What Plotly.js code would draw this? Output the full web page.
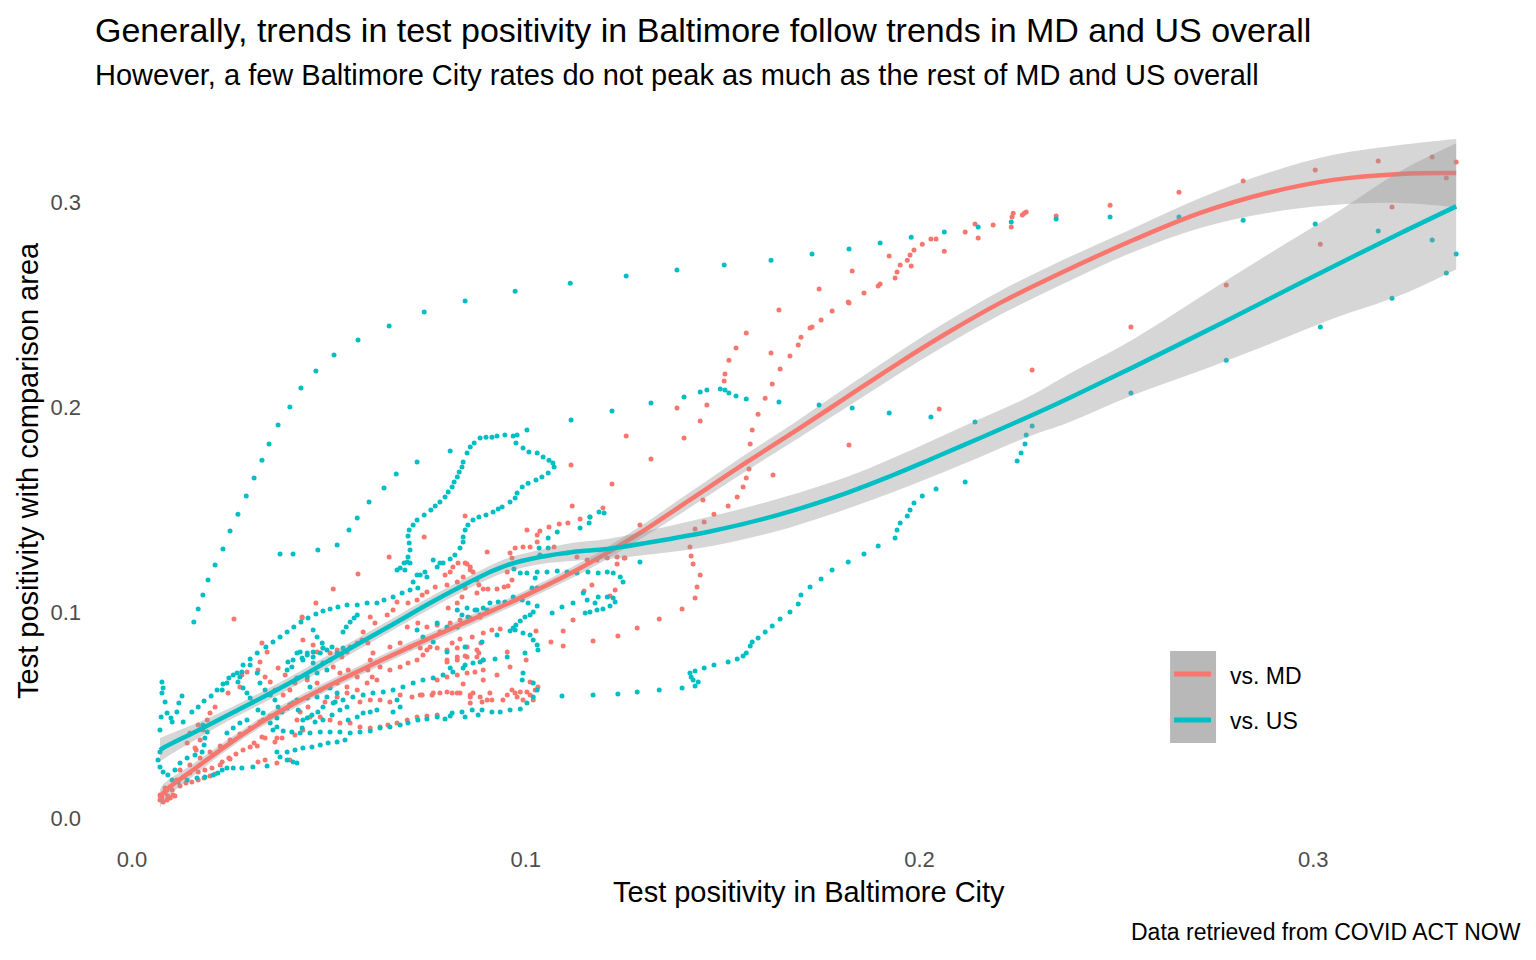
<!DOCTYPE html>
<html>
<head>
<meta charset="utf-8">
<script src="https://cdn.plot.ly/plotly-3.0.1.min.js"></script>
<style>html,body{margin:0;padding:0;background:#fff;}#chart{width:1536px;height:960px;}</style>
</head>
<body>
<div id="chart"></div>
<script>
// ---------- tick values ----------
const xTickVals = [0, 0.1, 0.2, 0.3];
const yTickVals = [0, 0.1, 0.2, 0.3];
const tickLabels = ["0.0", "0.1", "0.2", "0.3"];

// ---------- vs. US (teal) points [x, y] ----------
const usUpperArc = [[0.0157,0.0955],[0.0168,0.1018],[0.0180,0.1086],[0.0193,0.1159],[0.0211,0.1232],[0.0231,0.1310],[0.0249,0.1398],[0.0269,0.1480],[0.0290,0.1568],[0.0310,0.1656],[0.0330,0.1743],[0.0348,0.1821],[0.0371,0.1914],[0.0401,0.2002],[0.0429,0.2094],[0.0467,0.2177],[0.0513,0.2255],[0.0574,0.2328],[0.0653,0.2396],[0.0742,0.2464],[0.0846,0.2518],[0.0973,0.2566],[0.1113,0.2605],[0.1255,0.2640],[0.1384,0.2669],[0.1504,0.2693],[0.1623,0.2717],[0.1727,0.2747],[0.1821,0.2771],[0.1900,0.2800],[0.1979,0.2829],[0.2063,0.2854],[0.2149,0.2878],[0.2233,0.2903],[0.2347,0.2917],[0.2484,0.2927],[0.2659,0.2927],[0.2822,0.2912],[0.3005,0.2893],[0.3165,0.2859],[0.3302,0.2815],[0.3363,0.2747],[0.3338,0.2654],[0.3200,0.2532],[0.3018,0.2391],[0.2779,0.2230],[0.2537,0.2070],[0.2286,0.1909],[0.2271,0.1865],[0.2268,0.1821],[0.2258,0.1778],[0.2248,0.1739],[0.2116,0.1636],[0.2042,0.1602],[0.2007,0.1568],[0.1986,0.1534],[0.1976,0.1500],[0.1969,0.1471],[0.1951,0.1437],[0.1943,0.1403],[0.1938,0.1364],[0.1895,0.1325],[0.1859,0.1286],[0.1819,0.1247],[0.1778,0.1208],[0.1750,0.1164],[0.1722,0.1125],[0.1699,0.1086],[0.1692,0.1042],[0.1671,0.1003],[0.1646,0.0969],[0.1626,0.0935],[0.1608,0.0906],[0.1590,0.0877],[0.1575,0.0857],[0.1570,0.0838],[0.1560,0.0804],[0.1552,0.0789],[0.1537,0.0774],[0.1514,0.0760],[0.1478,0.0745],[0.1453,0.0731],[0.1430,0.0716],[0.1417,0.0706],[0.1420,0.0687],[0.1425,0.0672],[0.1438,0.0662],[0.1430,0.0643],[0.1397,0.0633],[0.1339,0.0623],[0.1283,0.0614],[0.1234,0.0604],[0.1171,0.0599],[0.1092,0.0594]];
const usMidArc = [[0.0376,0.1286],[0.0409,0.1286],[0.0472,0.1305],[0.0521,0.1330],[0.0551,0.1403],[0.0572,0.1461],[0.0602,0.1539],[0.0640,0.1607],[0.0671,0.1675],[0.0724,0.1734],[0.0808,0.1787],[0.1003,0.1890],[0.1115,0.1938],[0.1219,0.1982],[0.1318,0.2021],[0.1402,0.2050],[0.1443,0.2075],[0.1460,0.2084],[0.1494,0.2089],[0.1506,0.2084],[0.1516,0.2070],[0.1534,0.2055],[0.1560,0.2041],[0.1643,0.2026],[0.1745,0.2011],[0.1829,0.1997],[0.1923,0.1972],[0.2029,0.1953],[0.2141,0.1929]];
const usLoop = [[0.0673,0.1208],[0.0691,0.1242],[0.0701,0.1271],[0.0706,0.1305],[0.0704,0.1339],[0.0701,0.1373],[0.0704,0.1403],[0.0714,0.1427],[0.0724,0.1451],[0.0742,0.1476],[0.0759,0.1500],[0.0770,0.1519],[0.0782,0.1539],[0.0795,0.1563],[0.0803,0.1588],[0.0813,0.1612],[0.0818,0.1636],[0.0826,0.1661],[0.0831,0.1685],[0.0838,0.1709],[0.0841,0.1734],[0.0851,0.1778],[0.0859,0.1807],[0.0869,0.1826],[0.0884,0.1851],[0.0899,0.1855],[0.0914,0.1855],[0.0927,0.1860],[0.0947,0.1865],[0.0968,0.1860],[0.0978,0.1865],[0.0975,0.1826],[0.0993,0.1802],[0.1008,0.1782],[0.1029,0.1778],[0.1044,0.1758],[0.1059,0.1743],[0.1069,0.1729],[0.1072,0.1709],[0.1057,0.1680],[0.1041,0.1661],[0.1026,0.1646],[0.1006,0.1631],[0.0991,0.1612],[0.0978,0.1583],[0.0973,0.1558],[0.0960,0.1539],[0.0940,0.1515],[0.0930,0.1505],[0.0917,0.1490],[0.0899,0.1476],[0.0881,0.1466],[0.0866,0.1451],[0.0853,0.1427],[0.0846,0.1403],[0.0841,0.1368],[0.0841,0.1344],[0.0833,0.1315],[0.0820,0.1281],[0.0808,0.1261],[0.0790,0.1242],[0.0775,0.1222]];
const usRightCluster = [[0.0970,0.1213],[0.0986,0.1193],[0.1003,0.1193],[0.1029,0.1198],[0.1054,0.1198],[0.1080,0.1203],[0.1105,0.1198],[0.1130,0.1193],[0.1158,0.1198],[0.1184,0.1193],[0.1207,0.1198],[0.1222,0.1193],[0.1240,0.1174],[0.1247,0.1149],[0.1034,0.1315],[0.1057,0.1315],[0.1036,0.1281],[0.1146,0.1096],[0.1156,0.1062],[0.1176,0.1047],[0.1184,0.1076],[0.1207,0.1076],[0.1222,0.1071],[0.1227,0.1052],[0.1214,0.1032],[0.1196,0.1018],[0.1181,0.1013],[0.1163,0.1003],[0.1151,0.0998],[0.1120,0.1047],[0.1092,0.1028],[0.1067,0.0998],[0.1029,0.1032],[0.1019,0.1003],[0.1011,0.0989],[0.0998,0.0979],[0.0986,0.0959],[0.0975,0.0940],[0.0968,0.0925],[0.0960,0.0911],[0.0993,0.0901],[0.1011,0.0891],[0.1019,0.0867],[0.1029,0.0843],[0.1031,0.0818],[0.1029,0.1120],[0.1016,0.1120],[0.1024,0.1169],[0.0909,0.1047],[0.0930,0.1052],[0.0947,0.1052],[0.0968,0.1076],[0.0991,0.1062],[0.1006,0.1047],[0.0902,0.1013],[0.0884,0.0989],[0.0871,0.1013],[0.0853,0.0979],[0.0838,0.0989],[0.0826,0.0930],[0.1163,0.1466],[0.1186,0.1490],[0.1199,0.1485],[0.1161,0.1437],[0.1138,0.1412],[0.1290,0.1247],[0.1057,0.1364],[0.1080,0.1393]];
const usLowerHook = [[0.0993,0.0706],[0.0991,0.0672],[0.1019,0.0658],[0.1029,0.0623],[0.1019,0.0589],[0.1003,0.0560],[0.0986,0.0531],[0.0960,0.0526],[0.0935,0.0516],[0.0914,0.0516],[0.0889,0.0526],[0.0864,0.0526],[0.0838,0.0516],[0.0813,0.0511],[0.0795,0.0482],[0.0998,0.0804],[0.0953,0.0784],[0.0922,0.0774],[0.0884,0.0760],[0.0846,0.0745],[0.0808,0.0731],[0.0846,0.0833],[0.0800,0.0809],[0.0889,0.0857],[0.0927,0.0891],[0.0973,0.0916]];
const usStart = [[0.0071,0.0321],[0.0066,0.0282],[0.0071,0.0248],[0.0079,0.0224],[0.0091,0.0209],[0.0102,0.0185],[0.0117,0.0175],[0.0140,0.0185],[0.0165,0.0195],[0.0185,0.0200],[0.0206,0.0209],[0.0218,0.0219],[0.0229,0.0234],[0.0241,0.0243],[0.0257,0.0243],[0.0279,0.0243],[0.0307,0.0248],[0.0343,0.0253],[0.0109,0.0234],[0.0122,0.0268],[0.0140,0.0292],[0.0160,0.0307],[0.0178,0.0321],[0.0183,0.0355],[0.0185,0.0390],[0.0191,0.0419],[0.0180,0.0453],[0.0076,0.0662],[0.0079,0.0633],[0.0076,0.0609],[0.0084,0.0565],[0.0089,0.0511],[0.0099,0.0487],[0.0102,0.0468],[0.0114,0.0516],[0.0119,0.0560],[0.0127,0.0594],[0.0074,0.0492],[0.0071,0.0429]];
const usDiagonal = [[0.0130,0.0468],[0.0152,0.0516],[0.0168,0.0541],[0.0183,0.0570],[0.0201,0.0594],[0.0216,0.0623],[0.0231,0.0653],[0.0246,0.0682],[0.0267,0.0706],[0.0282,0.0745],[0.0300,0.0774],[0.0318,0.0804],[0.0340,0.0833],[0.0358,0.0857],[0.0376,0.0882],[0.0394,0.0906],[0.0411,0.0930],[0.0429,0.0955],[0.0447,0.0974],[0.0467,0.0994],[0.0485,0.1008],[0.0503,0.1018],[0.0523,0.1028],[0.0546,0.1037],[0.0572,0.1037],[0.0597,0.1047],[0.0622,0.1047],[0.0640,0.1062],[0.0663,0.1076],[0.0686,0.1096],[0.0706,0.1110],[0.0726,0.1120],[0.0714,0.1149],[0.0732,0.1183],[0.0744,0.1198],[0.0749,0.1174],[0.0681,0.1218],[0.0699,0.1247],[0.0693,0.1208]];
const usLowRows = [[0.0368,0.0321],[0.0376,0.0297],[0.0394,0.0282],[0.0409,0.0273],[0.0419,0.0268],[0.0394,0.0321],[0.0414,0.0331],[0.0434,0.0341],[0.0457,0.0346],[0.0478,0.0355],[0.0498,0.0365],[0.0521,0.0370],[0.0541,0.0380],[0.0358,0.0429],[0.0384,0.0424],[0.0406,0.0419],[0.0427,0.0414],[0.0452,0.0414],[0.0478,0.0419],[0.0503,0.0419],[0.0528,0.0419],[0.0554,0.0414],[0.0579,0.0419],[0.0605,0.0424],[0.0630,0.0438],[0.0655,0.0443],[0.0681,0.0453],[0.0701,0.0463],[0.0726,0.0477],[0.0749,0.0482],[0.0775,0.0492],[0.0808,0.0497],[0.0846,0.0492],[0.0879,0.0502]];
const usCluster = [[0.0460,0.0916],[0.0470,0.0881],[0.0483,0.0852],[0.0485,0.0828],[0.0478,0.0804],[0.0460,0.0784],[0.0445,0.0804],[0.0427,0.0808],[0.0409,0.0769],[0.0434,0.0769],[0.0460,0.0755],[0.0485,0.0755],[0.0503,0.0769],[0.0495,0.0721],[0.0470,0.0706],[0.0445,0.0687],[0.0419,0.0682],[0.0452,0.0638],[0.0478,0.0623],[0.0503,0.0633],[0.0521,0.0609],[0.0495,0.0589],[0.0470,0.0589],[0.0445,0.0584],[0.0419,0.0575],[0.0485,0.0541],[0.0511,0.0560],[0.0536,0.0575],[0.0561,0.0589],[0.0587,0.0599],[0.0612,0.0609],[0.0638,0.0614],[0.0663,0.0623],[0.0688,0.0638],[0.0714,0.0657],[0.0739,0.0672],[0.0765,0.0682],[0.0790,0.0696],[0.0815,0.0711],[0.0841,0.0731],[0.0866,0.0755],[0.0892,0.0769],[0.0673,0.0575],[0.0681,0.0541],[0.0663,0.0516],[0.0587,0.0511],[0.0572,0.0492],[0.0549,0.0477],[0.0605,0.0516],[0.0622,0.0526],[0.0706,0.1242],[0.0724,0.1183],[0.0765,0.1257],[0.0782,0.1242],[0.0826,0.1013],[0.0851,0.1023],[0.0876,0.1013],[0.0892,0.1023],[0.0775,0.0950],[0.0800,0.0930],[0.0724,0.0916],[0.0739,0.0881],[0.0765,0.0857],[0.0536,0.0906],[0.0544,0.0930],[0.0554,0.0955],[0.0564,0.0974],[0.0572,0.0989]];
const usCluster2 = [[0.0279,0.0711],[0.0274,0.0687],[0.0269,0.0662],[0.0282,0.0633],[0.0292,0.0609],[0.0300,0.0584],[0.0307,0.0565],[0.0320,0.0526],[0.0333,0.0511],[0.0351,0.0492],[0.0368,0.0487],[0.0381,0.0516],[0.0394,0.0536],[0.0401,0.0550],[0.0409,0.0560],[0.0422,0.0526],[0.0445,0.0487],[0.0465,0.0468],[0.0485,0.0477],[0.0508,0.0502],[0.0528,0.0526],[0.0546,0.0541],[0.0351,0.0463],[0.0368,0.0443],[0.0432,0.0438],[0.0434,0.0477],[0.0457,0.0502],[0.0472,0.0516],[0.0516,0.0565],[0.0419,0.0804],[0.0432,0.0779],[0.0445,0.0794],[0.0460,0.0808],[0.0495,0.0818],[0.0508,0.0833],[0.0521,0.0804],[0.0536,0.0828],[0.0396,0.0760],[0.0406,0.0735],[0.0394,0.0721],[0.0300,0.0745],[0.0318,0.0706],[0.0325,0.0657],[0.0338,0.0623],[0.0351,0.0599],[0.0363,0.0575],[0.0371,0.0541],[0.0257,0.0696],[0.0241,0.0657],[0.0229,0.0623],[0.0292,0.0477],[0.0274,0.0463],[0.0257,0.0438],[0.0241,0.0414]];

// ---------- vs. MD (red) points [x, y] ----------
const mdHighPaths = [[0.1219,0.1627],[0.1255,0.1860],[0.1318,0.1748],[0.1384,0.1997],[0.1402,0.1851],[0.1443,0.1933],[0.1460,0.2011],[0.1504,0.2128],[0.1506,0.2162],[0.1516,0.2230],[0.1534,0.2289],[0.1560,0.2362],[0.1537,0.1563],[0.1552,0.1612],[0.1560,0.1656],[0.1567,0.1700],[0.1570,0.1821],[0.1575,0.1890],[0.1590,0.1967],[0.1608,0.2045],[0.1626,0.2114],[0.1646,0.2187],[0.1671,0.2250],[0.1692,0.2304],[0.1699,0.2342],[0.1722,0.2386],[0.1727,0.2391],[0.1750,0.2425],[0.1778,0.2469],[0.1819,0.2513],[0.1821,0.2508],[0.1859,0.2557],[0.1895,0.2591],[0.1900,0.2601],[0.1938,0.2630],[0.1943,0.2659],[0.1951,0.2693],[0.1969,0.2717],[0.1976,0.2742],[0.1986,0.2766],[0.2007,0.2795],[0.2029,0.2820],[0.2042,0.2820],[0.2063,0.2761],[0.2116,0.2854],[0.2141,0.2893],[0.2149,0.2825],[0.2187,0.2888],[0.2233,0.2878],[0.2235,0.2927],[0.2238,0.2946],[0.2261,0.2937],[0.2266,0.2946],[0.2271,0.2951],[0.1623,0.2265],[0.1643,0.2474],[0.1745,0.2576],[0.1829,0.2664],[0.1923,0.2737],[0.1979,0.2688],[0.1628,0.1670],[0.1821,0.1817],[0.2050,0.1992],[0.1450,0.1549]];
const mdPeak = [[0.2347,0.2932],[0.2484,0.2985],[0.2659,0.3048],[0.2822,0.3102],[0.3005,0.3156],[0.3165,0.3200],[0.3302,0.3219],[0.3363,0.3195],[0.3338,0.3117],[0.3200,0.2976],[0.3018,0.2795],[0.2779,0.2596],[0.2537,0.2391],[0.2286,0.2182]];
const mdDescent = [[0.1514,0.1519],[0.1478,0.1480],[0.1453,0.1442],[0.1430,0.1407],[0.1417,0.1320],[0.1420,0.1276],[0.1425,0.1237],[0.1443,0.1183],[0.1435,0.1125],[0.1430,0.1071],[0.1397,0.1018],[0.1339,0.0969],[0.1283,0.0925],[0.1234,0.0886],[0.1171,0.0862],[0.1290,0.1427],[0.1250,0.1266],[0.1232,0.1237]];
const mdUpperCluster = [[0.1118,0.1519],[0.1196,0.1510],[0.1138,0.1456],[0.1163,0.1466],[0.1107,0.1437],[0.1085,0.1432],[0.1059,0.1417],[0.1036,0.1398],[0.1029,0.1378],[0.1003,0.1403],[0.1029,0.1344],[0.1011,0.1320],[0.0993,0.1320],[0.0973,0.1315],[0.0960,0.1291],[0.0965,0.1266],[0.1072,0.1320],[0.1105,0.1291],[0.1130,0.1271],[0.1156,0.1256],[0.1181,0.1256],[0.1207,0.1266],[0.1232,0.1271],[0.1252,0.1266],[0.0953,0.1198],[0.0965,0.1159],[0.0955,0.1130],[0.0945,0.1125],[0.0927,0.1115],[0.0904,0.1115],[0.0892,0.1115],[0.0881,0.1135],[0.0876,0.1159],[0.0866,0.1198],[0.0859,0.1222],[0.0846,0.1242],[0.0828,0.1242],[0.0815,0.1222],[0.0808,0.1198],[0.0795,0.1183],[0.0841,0.1174],[0.0846,0.1120],[0.0838,0.1076],[0.0826,0.1047],[0.0803,0.1023],[0.0902,0.1295],[0.1148,0.1105],[0.1168,0.1135],[0.1227,0.1110],[0.1214,0.1081],[0.1120,0.0964],[0.1095,0.0911],[0.1095,0.0838],[0.1064,0.0857],[0.1026,0.0911],[0.1001,0.0769],[0.0960,0.0735],[0.0927,0.0696],[0.0892,0.0672],[0.0886,0.0852],[0.0881,0.0804],[0.0846,0.0789],[0.0826,0.0784],[0.0800,0.0760],[0.0813,0.0852],[0.0833,0.0872],[0.0864,0.0881],[0.0892,0.0901],[0.0914,0.0916],[0.0935,0.0920],[0.0953,0.0808],[0.0653,0.1271],[0.0742,0.1368],[0.0846,0.1471],[0.1115,0.1719]];
const mdTail = [[0.0986,0.0614],[0.0973,0.0609],[0.0953,0.0599],[0.0942,0.0575],[0.1003,0.0614],[0.1011,0.0662],[0.1031,0.0638],[0.0909,0.0609],[0.0902,0.0575],[0.0866,0.0609],[0.0859,0.0560],[0.0826,0.0609],[0.0800,0.0614],[0.0841,0.0653],[0.0889,0.0565],[0.0965,0.0623],[0.0978,0.0589],[0.0993,0.0575],[0.1011,0.0599],[0.1024,0.0623],[0.1019,0.0575]];
const mdMidBand = [[0.0574,0.1188],[0.0511,0.1115],[0.0467,0.1047],[0.0432,0.0974],[0.0434,0.0867],[0.0460,0.0843],[0.0470,0.0808],[0.0485,0.0828],[0.0503,0.0804],[0.0521,0.0818],[0.0533,0.0784],[0.0546,0.0808],[0.0554,0.0833],[0.0572,0.0852],[0.0584,0.0867],[0.0599,0.0852],[0.0612,0.0804],[0.0605,0.0769],[0.0599,0.0721],[0.0610,0.0687],[0.0622,0.0672],[0.0597,0.0657],[0.0572,0.0687],[0.0630,0.0735],[0.0655,0.0721],[0.0681,0.0735],[0.0701,0.0755],[0.0724,0.0769],[0.0739,0.0794],[0.0749,0.0818],[0.0732,0.0828],[0.0655,0.0833],[0.0681,0.0852],[0.0706,0.0833],[0.0757,0.0833],[0.0775,0.0828],[0.0800,0.0818],[0.0826,0.0828],[0.0851,0.0833],[0.0876,0.0818],[0.0699,0.0930],[0.0726,0.0950],[0.0749,0.0930],[0.0775,0.0940],[0.0808,0.0950],[0.0833,0.0964],[0.0859,0.0974],[0.0884,0.0979],[0.0782,0.0906],[0.0587,0.0906],[0.0617,0.0950],[0.0605,0.0979],[0.0648,0.0989],[0.0663,0.1013],[0.0673,0.1052],[0.0701,0.1047],[0.0724,0.1062],[0.0737,0.1086],[0.0749,0.1101],[0.0770,0.1125],[0.0800,0.1135],[0.0826,0.1149],[0.0859,0.1208],[0.0851,0.1237],[0.0876,0.1096]];
const mdLowBand = [[0.0681,0.0599],[0.0711,0.0589],[0.0732,0.0599],[0.0765,0.0609],[0.0782,0.0609],[0.0859,0.0589],[0.0884,0.0589],[0.0579,0.0565],[0.0605,0.0575],[0.0630,0.0575],[0.0655,0.0565],[0.0490,0.0565],[0.0521,0.0589],[0.0546,0.0609],[0.0447,0.0541],[0.0427,0.0516],[0.0452,0.0492],[0.0478,0.0492],[0.0503,0.0477],[0.0528,0.0463],[0.0554,0.0463],[0.0419,0.0477],[0.0434,0.0429],[0.0414,0.0404],[0.0445,0.0672],[0.0470,0.0657],[0.0495,0.0638],[0.0521,0.0657],[0.0546,0.0638],[0.0572,0.0623],[0.0511,0.0735],[0.0528,0.0706],[0.0549,0.0721],[0.0775,0.0672],[0.0800,0.0687],[0.0826,0.0696],[0.0851,0.0706],[0.0871,0.0711],[0.0892,0.0721],[0.0800,0.0769],[0.0826,0.0769],[0.0851,0.0784],[0.0876,0.0784],[0.0892,0.0769],[0.0775,0.0502],[0.0749,0.0497],[0.0724,0.0492],[0.0699,0.0477],[0.0673,0.0463],[0.0650,0.0453],[0.0630,0.0443],[0.0605,0.0438],[0.0579,0.0443],[0.0914,0.0575],[0.0859,0.0599],[0.0833,0.0609],[0.0813,0.0609],[0.0762,0.0599],[0.0737,0.0599]];
const mdStart = [[0.0368,0.0390],[0.0338,0.0282],[0.0318,0.0351],[0.0300,0.0346],[0.0282,0.0331],[0.0264,0.0312],[0.0246,0.0292],[0.0229,0.0273],[0.0203,0.0243],[0.0185,0.0234],[0.0168,0.0224],[0.0147,0.0219],[0.0130,0.0200],[0.0114,0.0185],[0.0097,0.0151],[0.0084,0.0122],[0.0076,0.0097],[0.0089,0.0136],[0.0104,0.0112],[0.0071,0.0088],[0.0079,0.0078],[0.0089,0.0088],[0.0097,0.0097],[0.0109,0.0107],[0.0091,0.0107],[0.0071,0.0112],[0.0084,0.0146],[0.0102,0.0136],[0.0122,0.0156],[0.0137,0.0170],[0.0152,0.0175],[0.0168,0.0185],[0.0183,0.0195],[0.0198,0.0204],[0.0211,0.0214],[0.0224,0.0258],[0.0249,0.0287],[0.0310,0.0365],[0.0320,0.0273],[0.0368,0.0268],[0.0401,0.0282],[0.0122,0.0234],[0.0147,0.0258],[0.0173,0.0292],[0.0198,0.0321],[0.0224,0.0351],[0.0249,0.0380],[0.0274,0.0409],[0.0300,0.0438],[0.0325,0.0468],[0.0351,0.0497],[0.0376,0.0521],[0.0401,0.0550],[0.0191,0.0477],[0.0180,0.0429],[0.0173,0.0380],[0.0163,0.0331]];
const mdScatter = [[0.0259,0.0969],[0.0432,0.0979],[0.0330,0.0852],[0.0343,0.0808],[0.0325,0.0760],[0.0320,0.0721],[0.0244,0.0609],[0.0211,0.0541],[0.0198,0.0511],[0.0168,0.0453],[0.0147,0.0414],[0.0140,0.0365],[0.0160,0.0341],[0.0338,0.0687],[0.0351,0.0662],[0.0363,0.0623],[0.0384,0.0599],[0.0401,0.0623],[0.0414,0.0657],[0.0389,0.0696],[0.0371,0.0730],[0.0333,0.0477],[0.0330,0.0394],[0.0338,0.0390],[0.0363,0.0370],[0.0381,0.0390],[0.0274,0.0638],[0.0279,0.0696],[0.0292,0.0711]];

// ---------- smoothed fits (loess) with confidence band ----------
const mdFitX  = [0.0071,0.0079,0.0165,0.0249,0.0333,0.0419,0.0503,0.0587,0.0673,0.0757,0.0884,0.0986,0.1120,0.1207,0.1290,0.1417,0.1562,0.1689,0.1816,0.1943,0.2070,0.2205,0.2375,0.2543,0.2713,0.2883,0.3051,0.3221,0.3363];
const mdFitY  = [0.0093,0.0122,0.0248,0.0365,0.0472,0.0565,0.0648,0.0726,0.0804,0.0877,0.0984,0.1072,0.1198,0.1291,0.1388,0.1549,0.1734,0.1890,0.2051,0.2211,0.2362,0.2509,0.2669,0.2815,0.2947,0.3044,0.3108,0.3137,0.3141];
const mdFitLo = [0.0049,0.0080,0.0219,0.0341,0.0448,0.0541,0.0624,0.0702,0.0780,0.0853,0.0960,0.1048,0.1171,0.1262,0.1356,0.1512,0.1693,0.1846,0.2002,0.2158,0.2306,0.2451,0.2611,0.2757,0.2874,0.2947,0.2986,0.2996,0.2975];
const mdFitHi = [0.0137,0.0164,0.0277,0.0389,0.0496,0.0589,0.0672,0.0750,0.0828,0.0901,0.1008,0.1096,0.1225,0.1320,0.1420,0.1586,0.1775,0.1934,0.2100,0.2264,0.2418,0.2567,0.2727,0.2873,0.3020,0.3141,0.3230,0.3278,0.3307];

const usFitX  = [0.0071,0.0079,0.0165,0.0249,0.0333,0.0419,0.0503,0.0587,0.0673,0.0757,0.0833,0.0909,0.0953,0.1036,0.1120,0.1207,0.1308,0.1476,0.1646,0.1816,0.1930,0.2027,0.2154,0.2281,0.2375,0.2543,0.2713,0.2883,0.3051,0.3221,0.3363];
const usFitY  = [0.0331,0.0341,0.0424,0.0507,0.0589,0.0677,0.0770,0.0862,0.0955,0.1047,0.1125,0.1198,0.1232,0.1271,0.1296,0.1310,0.1340,0.1399,0.1479,0.1584,0.1668,0.1746,0.1851,0.1958,0.2041,0.2196,0.2358,0.2523,0.2686,0.2848,0.2979];
const usFitLo = [0.0273,0.0286,0.0385,0.0478,0.0560,0.0648,0.0741,0.0833,0.0926,0.1018,0.1096,0.1167,0.1199,0.1236,0.1252,0.1261,0.1282,0.1326,0.1401,0.1506,0.1585,0.1658,0.1758,0.1861,0.1924,0.2060,0.2178,0.2304,0.2433,0.2546,0.2672];
const usFitHi = [0.0389,0.0396,0.0463,0.0536,0.0618,0.0706,0.0799,0.0891,0.0984,0.1076,0.1154,0.1229,0.1265,0.1306,0.1340,0.1359,0.1398,0.1472,0.1557,0.1662,0.1751,0.1834,0.1944,0.2055,0.2158,0.2332,0.2538,0.2742,0.2939,0.3150,0.3286];

// ---------- colours / text ----------
const colMD = "#F8766D";
const colUS = "#00BFC4";
const bandFill = "rgba(153,153,153,0.4)";
const FONT = "Liberation Sans, Arial, Helvetica, sans-serif";

const mdPts = [].concat(mdStart, mdScatter, mdLowBand, mdMidBand, mdTail, mdUpperCluster, mdDescent, mdHighPaths, mdPeak);
const usPts = [].concat(usStart, usDiagonal, usLowRows, usCluster2, usCluster, usLowerHook, usRightCluster, usLoop, usMidArc, usUpperArc);

function ptsTrace(pts, col) {
  return {
    type: "scatter", mode: "markers",
    x: pts.map(p => p[0]), y: pts.map(p => p[1]),
    marker: {color: col, size: 5, line: {width: 0}},
    hoverinfo: "skip", showlegend: false
  };
}
function bandLower(xs, lo) {
  return {
    type: "scatter", mode: "lines", x: xs, y: lo,
    line: {width: 0, color: "rgba(0,0,0,0)", shape: "spline", smoothing: 1},
    hoverinfo: "skip", showlegend: false
  };
}
function bandUpper(xs, hi) {
  return {
    type: "scatter", mode: "lines", x: xs, y: hi,
    fill: "tonexty", fillcolor: bandFill,
    line: {width: 0, color: "rgba(0,0,0,0)", shape: "spline", smoothing: 1},
    hoverinfo: "skip", showlegend: false
  };
}
function fitTrace(xs, ys, col) {
  return {
    type: "scatter", mode: "lines", x: xs, y: ys,
    line: {color: col, width: 4.5, shape: "spline", smoothing: 1},
    hoverinfo: "skip", showlegend: false
  };
}

const data = [
  ptsTrace(mdPts, colMD),
  ptsTrace(usPts, colUS),
  bandLower(mdFitX, mdFitLo),
  bandUpper(mdFitX, mdFitHi),
  fitTrace(mdFitX, mdFitY, colMD),
  bandLower(usFitX, usFitLo),
  bandUpper(usFitX, usFitHi),
  fitTrace(usFitX, usFitY, colUS)
];

const layout = {
  width: 1536, height: 960,
  margin: {l: 95, r: 18, t: 107, b: 126, pad: 0},
  paper_bgcolor: "#ffffff", plot_bgcolor: "#ffffff",
  font: {family: FONT, color: "#000000"},
  showlegend: false,
  xaxis: {
    range: [-0.0094, 0.352], tickvals: xTickVals, ticktext: tickLabels,
    showgrid: false, zeroline: false, showline: false, ticks: "",
    tickfont: {family: FONT, size: 22, color: "#4D4D4D"},
    ticklabelstandoff: 10, automargin: false, fixedrange: true
  },
  yaxis: {
    range: [-0.0078, 0.3463], tickvals: yTickVals, ticktext: tickLabels,
    showgrid: false, zeroline: false, showline: false, ticks: "",
    tickfont: {family: FONT, size: 22, color: "#4D4D4D"},
    ticklabelstandoff: 13, automargin: false, fixedrange: true
  },
  shapes: [
    {type: "rect", xref: "paper", yref: "paper", x0: 0.7555, x1: 0.7878, y0: 0.1252, y1: 0.2517,
     fillcolor: "#B8B8B8", line: {width: 0}, layer: "above"},
    {type: "line", xref: "paper", yref: "paper", x0: 0.7583, x1: 0.7843, y0: 0.2201, y1: 0.2201,
     line: {color: colMD, width: 5}, layer: "above"},
    {type: "line", xref: "paper", yref: "paper", x0: 0.7583, x1: 0.7843, y0: 0.1568, y1: 0.1568,
     line: {color: colUS, width: 5}, layer: "above"}
  ],
  annotations: [
    {text: "Generally, trends in test positivity in Baltimore follow trends in MD and US overall",
     xref: "paper", yref: "paper", x: -0.0014, y: 1.1059, xanchor: "left", yanchor: "middle",
     showarrow: false, font: {family: FONT, size: 34, color: "#000"}},
    {text: "However, a few Baltimore City rates do not peak as much as the rest of MD and US overall",
     xref: "paper", yref: "paper", x: -0.0014, y: 1.0440, xanchor: "left", yanchor: "middle",
     showarrow: false, font: {family: FONT, size: 29, color: "#000"}},
    {text: "Test positivity in Baltimore City",
     xref: "paper", yref: "paper", x: 0.5018, y: -0.0798, xanchor: "center", yanchor: "middle",
     showarrow: false, font: {family: FONT, size: 29, color: "#000"}},
    {text: "Test positivity with comparison area",
     xref: "paper", yref: "paper", x: -0.0471, y: 0.5007, xanchor: "center", yanchor: "middle",
     textangle: -90, showarrow: false, font: {family: FONT, size: 29, color: "#000"}},
    {text: "Data retrieved from COVID ACT NOW",
     xref: "paper", yref: "paper", x: 1.0035, y: -0.1348, xanchor: "right", yanchor: "middle",
     showarrow: false, font: {family: FONT, size: 23, color: "#000"}},
    {text: "vs. MD",
     xref: "paper", yref: "paper", x: 0.7962, y: 0.2173, xanchor: "left", yanchor: "middle",
     showarrow: false, font: {family: FONT, size: 23, color: "#000"}},
    {text: "vs. US",
     xref: "paper", yref: "paper", x: 0.7962, y: 0.1554, xanchor: "left", yanchor: "middle",
     showarrow: false, font: {family: FONT, size: 23, color: "#000"}}
  ]
};

Plotly.newPlot("chart", data, layout, {displayModeBar: false, staticPlot: true});
</script>
</body>
</html>
